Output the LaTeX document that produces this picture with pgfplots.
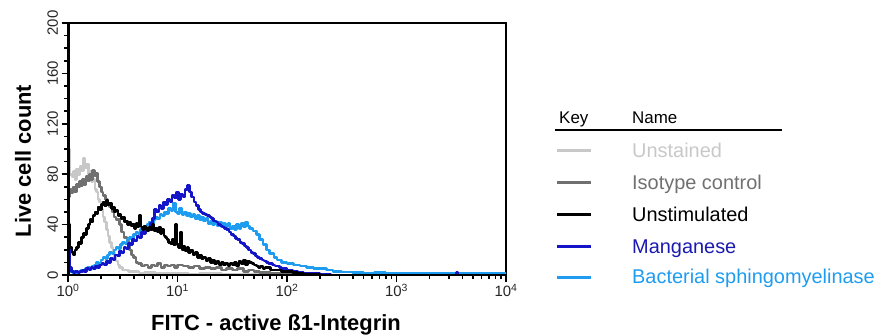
\documentclass[border=0pt]{standalone}
\usepackage{fontspec}
\setmainfont{Liberation Sans}
\usepackage{pgfplots}
\pgfplotsset{compat=1.18}
\definecolor{cUnst}{HTML}{C8C8C8}
\definecolor{cIso}{HTML}{707070}
\definecolor{cMn}{HTML}{1414C8}
\definecolor{cMnT}{HTML}{1A1AB0}
\definecolor{cSm}{HTML}{1E9CF0}
\newcommand{\tickfont}{\fontsize{15}{17}\selectfont}
\begin{document}
\begin{tikzpicture}[x=1bp,y=1bp]
\path[use as bounding box] (0,0) rectangle (894,334);
\begin{axis}[
  at={(68bp,59bp)}, anchor=south west,
  scale only axis, width=438bp, height=252bp,
  xmin=0, xmax=4, ymin=0, ymax=200,
  axis line style={black, line width=1.3bp},
  xtick={0,1,2,3,4},
  xticklabels={10\textsuperscript{0},10\textsuperscript{1},10\textsuperscript{2},10\textsuperscript{3},10\textsuperscript{4}},
  minor xtick={0.30103,0.47712,0.60206,0.69897,0.77815,0.84510,0.90309,0.95424,
    1.30103,1.47712,1.60206,1.69897,1.77815,1.84510,1.90309,1.95424,
    2.30103,2.47712,2.60206,2.69897,2.77815,2.84510,2.90309,2.95424,
    3.30103,3.47712,3.60206,3.69897,3.77815,3.84510,3.90309,3.95424},
  ytick={0,40,80,120,160,200},
  yticklabels={0,40,80,120,160,200},
  minor y tick num=3,
  xtick pos=bottom, ytick pos=left,
  tick align=outside,
  major tick length=6.5bp, minor tick length=4bp,
  every tick/.style={black, line width=1.5bp},
  every tick label/.append style={font=\tickfont, text=black!85},
  xticklabel style={font=\tickfont, yshift=1bp},
  yticklabel style={font=\tickfont, rotate=90, anchor=south},
  clip=true,
  every axis plot/.append style={const plot, line join=round},
]
% Unstained
\addplot[cUnst, line width=2.6bp] coordinates {
(0.000,140)(0.010,100)(0.020,80)(0.035,78)(0.050,82)(0.065,76)(0.080,84)(0.095,80)(0.110,86)(0.125,83)(0.140,93)(0.155,85)(0.170,88)(0.185,80)(0.200,82)(0.215,74)(0.230,76)(0.245,68)(0.260,66)(0.275,60)(0.290,58)(0.305,52)(0.320,46)(0.335,42)(0.350,36)(0.365,31)(0.380,26)(0.395,22)(0.410,18)(0.425,14)(0.440,11)(0.455,8)(0.470,6)(0.500,4)(0.550,3)(0.600,3)(0.650,1.5)(0.700,2)(0.800,1)(0.900,1.5)(1.000,1)(1.100,0.5)(1.200,1)(1.400,0.5)(1.600,0.5)(1.800,0.2)(2.000,0)(4.000,0)
};
% Isotype control
\addplot[cIso, line width=2.6bp] coordinates {
(0.000,62)(0.015,68)(0.030,65)(0.045,70)(0.060,66)(0.075,72)(0.090,70)(0.105,74)(0.120,71)(0.135,76)(0.150,72)(0.165,78)(0.180,75)(0.195,80)(0.210,76)(0.225,83)(0.240,79)(0.255,81)(0.270,74)(0.290,70)(0.305,66)(0.320,63)(0.340,60)(0.360,56)(0.380,54)(0.400,50)(0.420,46)(0.440,44)(0.470,40)(0.490,34)(0.510,30)(0.540,26)(0.560,20)(0.580,16)(0.600,14)(0.620,10)(0.640,9)(0.670,7)(0.700,8)(0.730,6)(0.760,8)(0.790,7)(0.820,9)(0.850,6)(0.880,8)(0.910,7)(0.940,8)(0.970,6)(1.000,8)(1.050,7)(1.100,6)(1.150,7)(1.200,5)(1.250,6)(1.300,5)(1.350,6)(1.400,4)(1.450,5)(1.500,4)(1.550,5)(1.600,3)(1.650,4)(1.700,3)(1.750,2)(1.800,2)(1.850,1.5)(1.900,1)(2.000,0.5)(2.100,0.3)(2.200,0)(4.000,0)
};
% Bacterial sphingomyelinase
\addplot[cSm, line width=2.6bp] coordinates {
(0.000,38)(0.008,10)(0.020,3)(0.040,2)(0.060,3)(0.080,2)(0.100,3)(0.120,4)(0.140,3)(0.160,5)(0.180,6)(0.200,5)(0.220,7)(0.240,8)(0.260,10)(0.280,9)(0.300,12)(0.320,14)(0.340,13)(0.360,16)(0.380,18)(0.400,17)(0.420,20)(0.440,22)(0.460,21)(0.480,24)(0.500,26)(0.520,25)(0.540,28)(0.560,30)(0.580,29)(0.600,32)(0.620,34)(0.640,33)(0.660,36)(0.680,38)(0.700,37)(0.720,40)(0.740,42)(0.760,41)(0.780,44)(0.800,46)(0.820,45)(0.840,48)(0.860,47)(0.880,50)(0.900,49)(0.920,53)(0.940,51)(0.960,57)(0.980,50)(1.000,49)(1.020,53)(1.040,48)(1.060,50)(1.080,47)(1.100,49)(1.120,46)(1.140,48)(1.160,45)(1.180,47)(1.200,44)(1.220,46)(1.240,43)(1.260,45)(1.280,41)(1.300,43)(1.320,40)(1.340,43)(1.360,39)(1.380,42)(1.400,38)(1.420,41)(1.440,38)(1.460,41)(1.480,37)(1.500,39)(1.520,36)(1.540,40)(1.560,37)(1.580,41)(1.600,38)(1.620,42)(1.640,39)(1.660,37)(1.690,35)(1.720,32)(1.750,28)(1.780,24)(1.810,20)(1.840,17)(1.880,14)(1.910,12)(1.950,10)(2.000,9)(2.060,8)(2.120,7)(2.180,6)(2.240,5)(2.300,5)(2.360,4)(2.420,3)(2.500,2.5)(2.600,2)(2.700,1.5)(2.800,2)(2.900,1.5)(3.000,1.2)(3.200,1.5)(3.400,1.2)(3.600,1.5)(3.800,1.2)(4.000,1.5)
};
% Manganese
\addplot[cMn, line width=2.6bp] coordinates {
(0.000,87)(0.008,30)(0.015,6)(0.030,3)(0.050,2)(0.070,3)(0.090,2)(0.110,3)(0.130,4)(0.150,3)(0.170,5)(0.190,4)(0.210,6)(0.230,5)(0.250,7)(0.270,6)(0.290,8)(0.310,9)(0.330,8)(0.350,11)(0.370,10)(0.390,13)(0.410,12)(0.430,16)(0.450,15)(0.470,19)(0.490,18)(0.510,22)(0.530,21)(0.550,25)(0.570,24)(0.590,28)(0.610,27)(0.630,31)(0.650,30)(0.670,34)(0.690,33)(0.710,37)(0.730,36)(0.750,41)(0.770,45)(0.790,52)(0.810,50)(0.830,55)(0.850,53)(0.870,58)(0.890,56)(0.910,60)(0.930,58)(0.950,63)(0.970,61)(0.990,66)(1.010,60)(1.030,64)(1.050,62)(1.070,68)(1.090,71)(1.110,66)(1.130,62)(1.150,58)(1.170,55)(1.190,52)(1.210,50)(1.230,49)(1.250,48)(1.270,47)(1.290,46)(1.310,45)(1.330,43)(1.350,42)(1.370,40)(1.390,39)(1.410,38)(1.430,37)(1.450,36)(1.470,34)(1.490,32)(1.510,31)(1.530,29)(1.550,28)(1.570,26)(1.590,25)(1.610,23)(1.630,22)(1.650,20)(1.670,18)(1.690,17)(1.710,15)(1.730,14)(1.750,13)(1.770,12)(1.790,11)(1.810,10)(1.830,9)(1.850,9)(1.870,8)(1.890,7)(1.910,7)(1.930,6)(1.950,5)(2.000,4)(2.050,3)(2.100,2)(2.150,1.5)(2.200,1)(2.300,0.5)(2.400,0)(3.540,0)(3.550,2)(3.560,0)(4.000,0)
};
% Unstimulated
\addplot[black, line width=2.6bp] coordinates {
(0.000,230)(0.010,40)(0.020,22)(0.035,18)(0.050,16)(0.065,20)(0.080,22)(0.095,26)(0.110,25)(0.125,30)(0.140,33)(0.155,32)(0.170,37)(0.185,40)(0.200,44)(0.215,42)(0.230,47)(0.245,50)(0.260,49)(0.275,54)(0.290,52)(0.305,56)(0.320,58)(0.335,55)(0.350,59)(0.365,56)(0.380,57)(0.395,53)(0.410,54)(0.425,50)(0.440,51)(0.455,47)(0.470,48)(0.485,45)(0.500,46)(0.515,42)(0.530,43)(0.545,40)(0.560,42)(0.575,39)(0.590,40)(0.605,37)(0.620,41)(0.635,38)(0.650,47)(0.665,38)(0.680,36)(0.695,39)(0.710,37)(0.725,35)(0.740,38)(0.755,36)(0.770,40)(0.785,35)(0.800,37)(0.815,34)(0.830,38)(0.845,33)(0.860,36)(0.875,31)(0.890,30)(0.905,28)(0.920,26)(0.935,25)(0.950,28)(0.965,24)(0.980,40)(0.995,24)(1.010,22)(1.025,34)(1.040,20)(1.055,23)(1.070,19)(1.085,22)(1.100,18)(1.120,20)(1.140,16)(1.160,18)(1.180,14)(1.200,16)(1.220,13)(1.240,14)(1.260,11)(1.280,13)(1.300,10)(1.320,12)(1.340,9)(1.360,11)(1.380,8)(1.400,10)(1.420,8)(1.440,9)(1.460,7)(1.480,9)(1.500,8)(1.520,10)(1.540,7)(1.560,11)(1.580,9)(1.600,12)(1.620,8)(1.640,11)(1.660,10)(1.680,9)(1.700,8)(1.720,7)(1.740,6)(1.760,7)(1.780,5)(1.800,6)(1.850,4)(1.900,4)(1.950,3)(2.000,3)(2.050,2)(2.100,1.5)(2.150,0.8)(2.200,0.5)(2.250,0.5)(2.300,0)(4.000,0)
};
\draw[black, line width=3bp] (rel axis cs:0,0) -- (rel axis cs:0,1);
\draw[black, line width=3bp] (rel axis cs:0,0) -- (rel axis cs:1,0);
\end{axis}
% axis labels
\node[rotate=90, font=\fontsize{22}{24}\selectfont\bfseries] at (23,173) {Live cell count};
\node[anchor=base, font=\fontsize{22}{24}\selectfont\bfseries] at (276,4) {FITC - active ß1-Integrin};
% legend
\node[anchor=base west, inner sep=0pt, font=\fontsize{17}{19}\selectfont] at (559,211) {Key};
\node[anchor=base west, inner sep=0pt, font=\fontsize{17}{19}\selectfont] at (632,211) {Name};
\draw[black, line width=1.6bp] (555,204) -- (782,204);
\draw[cUnst, line width=3bp] (557,184) -- (591,184);
\draw[cIso, line width=3bp] (557,152) -- (591,152);
\draw[black, line width=3bp] (557,120) -- (591,120);
\draw[cMn, line width=3bp] (557,88) -- (591,88);
\draw[cSm, line width=3bp] (557,57) -- (591,57);
\node[anchor=base west, inner sep=0pt, text=cUnst, font=\fontsize{20}{22}\selectfont] at (632,177) {Unstained};
\node[anchor=base west, inner sep=0pt, text=cIso, font=\fontsize{20}{22}\selectfont] at (632,145) {Isotype control};
\node[anchor=base west, inner sep=0pt, text=black, font=\fontsize{20}{22}\selectfont] at (632,113) {Unstimulated};
\node[anchor=base west, inner sep=0pt, text=cMnT, font=\fontsize{20}{22}\selectfont] at (632,81) {Manganese};
\node[anchor=base west, inner sep=0pt, text=cSm, font=\fontsize{20}{22}\selectfont] at (632,51) {Bacterial sphingomyelinase};
\end{tikzpicture}
\end{document}
